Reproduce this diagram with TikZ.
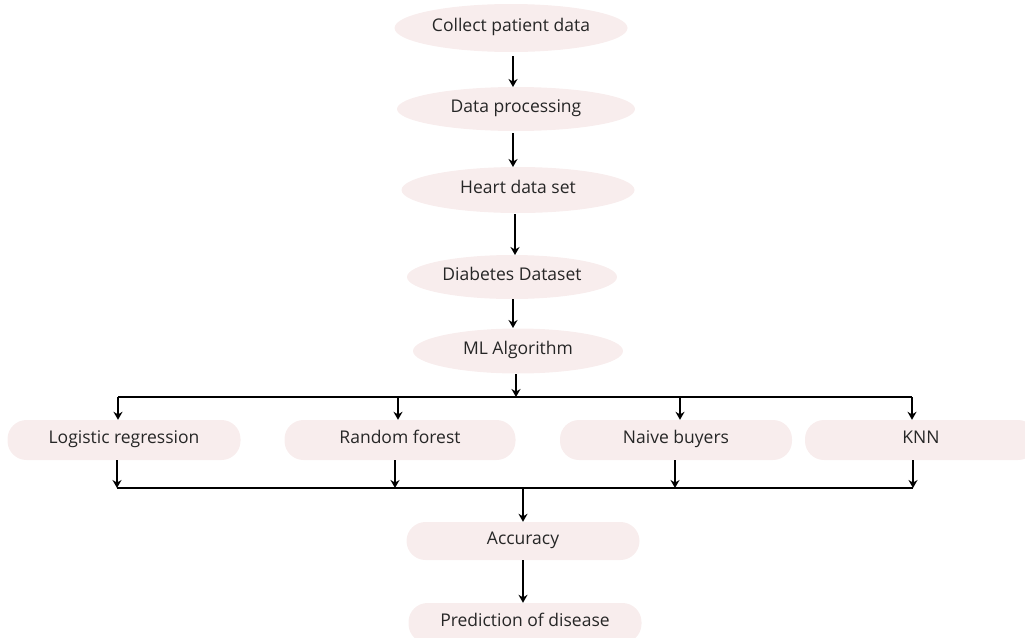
\documentclass[tikz,border=0pt]{standalone}
\usepackage{fontspec}
\setmainfont{Open Sans}
\usetikzlibrary{shapes.geometric,arrows.meta}
\definecolor{pinkfill}{HTML}{F8EDED}
\definecolor{txt}{HTML}{262626}
\tikzset{
  ell/.style={ellipse,fill=pinkfill,inner sep=0pt,text=txt,font=\fontsize{17.5}{20}\selectfont,text height=0.86em,text depth=0.1em},
  pill/.style={rectangle,rounded corners=19pt,fill=pinkfill,inner sep=0pt,text=txt,font=\fontsize{17.5}{20}\selectfont,text height=0.86em,text depth=0.1em},
  arr/.style={line width=2.2pt,-{Stealth[length=8pt,width=9pt]}},
  bus/.style={line width=2.2pt}
}
\begin{document}
\begin{tikzpicture}[x=1pt,y=-1pt]
\useasboundingbox (0,0) rectangle (1025,637);
\begin{scope}
\clip (0,0) rectangle (1025,637);
\node[ell,minimum width=233pt,minimum height=48pt] (collect) at (511,28) {Collect patient data};
\node[ell,minimum width=238pt,minimum height=44pt] (proc) at (516,109) {Data processing};
\node[ell,minimum width=233pt,minimum height=46pt] (heart) at (518,190) {Heart data set};
\node[ell,minimum width=210pt,minimum height=44pt] (diab) at (512,277) {Diabetes Dataset};
\node[ell,minimum width=210pt,minimum height=45pt] (ml) at (518,351) {ML Algorithm};

\node[pill,minimum width=233pt,minimum height=40pt] (lr) at (124,440) {Logistic regression};
\node[pill,minimum width=231pt,minimum height=40pt] (rf) at (400,440) {Random forest};
\node[pill,minimum width=232pt,minimum height=40pt] (nb) at (676,440) {Naive buyers};
\node[pill,minimum width=232pt,minimum height=40pt] (knn) at (921,440) {KNN};

\node[pill,minimum width=233pt,minimum height=38pt] (acc) at (523,541) {Accuracy};
\node[pill,minimum width=233pt,minimum height=40pt] (pred) at (525,623) {Prediction of disease};
\end{scope}

\coordinate (t1) at (513,56); \coordinate (h1) at (513,87);
\coordinate (t2) at (513,133); \coordinate (h2) at (513,167);
\coordinate (t3) at (515,214); \coordinate (h3) at (515,255);
\coordinate (t4) at (513,299); \coordinate (h4) at (513,328);
\draw[arr] (t1) -- (h1);
\draw[arr] (t2) -- (h2);
\draw[arr] (t3) -- (h3);
\draw[arr] (t4) -- (h4);

% top bus
\coordinate (mlbot) at (516,374);
\coordinate (busm) at (516,397);
\coordinate (busL) at (118,397);
\coordinate (busR) at (912,397);
\draw[arr] (mlbot) -- (busm);
\draw[bus] (busL) -- (busR);
\coordinate (b1) at (118,397); \coordinate (b2) at (398,397);
\coordinate (b3) at (680,397); \coordinate (b4) at (912,397);
\draw[arr] (b1) -- (b1 |- lr.north);
\draw[arr] (b2) -- (b2 |- rf.north);
\draw[arr] (b3) -- (b3 |- nb.north);
\draw[arr] (b4) -- (b4 |- knn.north);

% bottom bus
\coordinate (c1) at (117,488); \coordinate (c2) at (395,488);
\coordinate (c3) at (675,488); \coordinate (c4) at (913,488);
\draw[arr] (c1 |- lr.south) -- (c1);
\draw[arr] (c2 |- rf.south) -- (c2);
\draw[arr] (c3 |- nb.south) -- (c3);
\draw[arr] (c4 |- knn.south) -- (c4);
\draw[bus] (c1) -- (c4);
\coordinate (cm) at (523,488);
\draw[arr] (cm) -- (acc.north);
\draw[arr] (acc.south) -- (acc.south |- pred.north);
\end{tikzpicture}
\end{document}
